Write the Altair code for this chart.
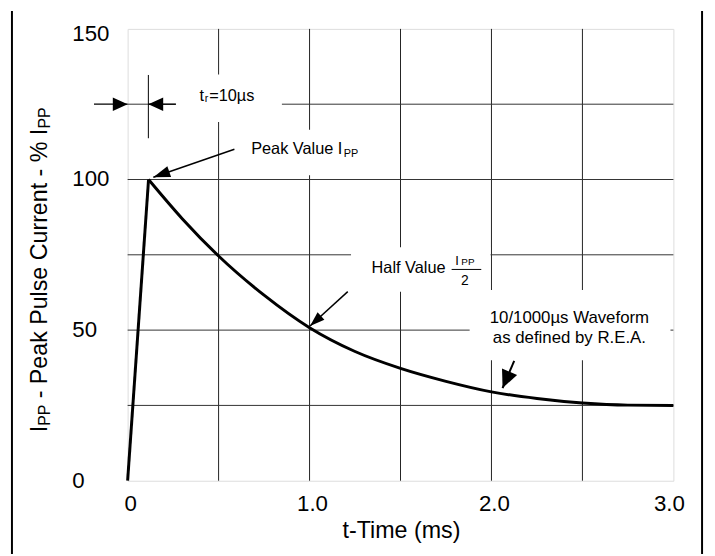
import math
import altair as alt
import pandas as pd

# ---------------- data ----------------
time_ms = [0, 0.115, 0.3, 0.5, 0.75, 1.0, 1.25, 1.5, 1.75, 2.0, 2.25, 2.5, 2.75, 3.0]
current_pct = [0, 100, 87.0, 74.6, 61.6, 50.8, 42.9, 37.3, 33.0, 29.5, 27.3, 25.8, 25.1, 25.0]

x_grid = [0.5, 1.0, 1.5, 2.0, 2.5]
y_grid = [25, 50, 75, 100, 125]
x_ticks = [0, 1, 2, 3]
x_tick_labels = ["0", "1.0", "2.0", "3.0"]
y_ticks = [0, 50, 100, 150]
y_tick_labels = ["0", "50", "100", "150"]

# annotation texts (data units)
ann_left_text = ["t", "r", "=10µs", "Peak Value I", "PP", "Half Value", "I", "PP"]
ann_left_x = [0.3951, 0.4239, 0.4484, 0.679, 1.1875, 1.3408, 1.8016, 1.8342]
ann_left_y = [125.94, 125.6, 125.94, 108.4, 107.6, 68.83, 71.55, 71.55]
ann_left_size = [16.5, 11, 16.5, 16.5, 11, 16.5, 13, 10]

ann_center_text = ["2", "10/1000µs Waveform", "as defined by R.E.A."]
ann_center_x = [1.8533, 2.4283, 2.4283]
ann_center_y = [64.99, 52.42, 45.69]
ann_center_size = [14, 17, 17]

# white label boxes that interrupt the grid (data units)
box_x1 = [0.266, 0.60, 1.228, 1.880]
box_x2 = [0.848, 1.32, 1.995, 2.984]
box_y1 = [119.1, 101.4, 62.7, 40.0]
box_y2 = [134.9, 116.5, 77.5, 63.3]

# arrows: start -> tip (data units)
arr_x1 = [-0.185, 0.265, 0.587, 1.210, 2.125]
arr_y1 = [125.0, 125.0, 110.05, 62.79, 39.81]
arr_x2 = [0.0, 0.114, 0.1413, 1.0027, 2.061]
arr_y2 = [125.0, 125.0, 100.77, 51.37, 30.75]
arr_width = [1.3, 1.3, 1.5, 1.5, 2.0]
arr_head_len = [15, 15, 17, 15, 18]
arr_head_wide = [True, True, False, False, True]

# marker line for rise time
mark_x = [0.114]
mark_y1 = [134.7]
mark_y2 = [113.7]

# fraction bar of "Ipp / 2"
frac_x1 = [1.781]
frac_x2 = [1.944]
frac_y = [70.14]

# ---------------- layout ----------------
W, H = 552, 457
KX = W / 3.0
KY = H / 150.0
FONT = "Liberation Sans"

xs = alt.Scale(domain=[0, 3], nice=False, zero=False)
ys = alt.Scale(domain=[0, 150], nice=False, zero=False)


def X(f):
    return alt.X(f, scale=xs, axis=None)


def Y(f):
    return alt.Y(f, scale=ys, axis=None)


curve = pd.DataFrame({"t": time_ms, "i": current_pct})
rise = curve.iloc[:2]
decay = curve.iloc[1:]

grid_v = alt.Chart(pd.DataFrame({"x": x_grid})).mark_rule(color="#222", strokeWidth=1).encode(
    x=X("x:Q"))
grid_h = alt.Chart(pd.DataFrame({"y": y_grid})).mark_rule(color="#333", strokeWidth=1).encode(
    y=Y("y:Q"))

boxes = alt.Chart(pd.DataFrame({"x1": box_x1, "x2": box_x2, "y1": box_y1, "y2": box_y2})).mark_rect(
    color="white").encode(x=X("x1:Q"), x2="x2:Q", y=Y("y1:Q"), y2="y2:Q")

rise_line = alt.Chart(rise).mark_line(color="black", strokeWidth=3).encode(
    x=X("t:Q"), y=Y("i:Q"))
decay_line = alt.Chart(decay).mark_line(color="black", strokeWidth=3, interpolate="monotone").encode(
    x=X("t:Q"), y=Y("i:Q"))

frac = alt.Chart(pd.DataFrame({"x1": frac_x1, "x2": frac_x2, "y": frac_y})).mark_rule(
    color="black", strokeWidth=1).encode(x=X("x1:Q"), x2="x2:Q", y=Y("y:Q"))

marker = alt.Chart(pd.DataFrame({"x": mark_x, "y1": mark_y1, "y2": mark_y2})).mark_rule(
    color="black", strokeWidth=1).encode(x=X("x:Q"), y=Y("y1:Q"), y2="y2:Q")

angles = [
    math.degrees(math.atan2(-(b2 - b1) * KY, (a2 - a1) * KX)) % 360
    for a1, b1, a2, b2 in zip(arr_x1, arr_y1, arr_x2, arr_y2)
]
arrows = pd.DataFrame({
    "x1": arr_x1, "y1": arr_y1, "x2": arr_x2, "y2": arr_y2, "w": arr_width,
    "ang": angles, "size": [l * l for l in arr_head_len], "wide": arr_head_wide,
})

arrow_lines = alt.Chart(arrows).mark_rule(color="black").encode(
    x=X("x1:Q"), y=Y("y1:Q"), x2="x2:Q", y2="y2:Q",
    strokeWidth=alt.StrokeWidth("w:Q", scale=None, legend=None))

WIDE = "M0,0L-2,-0.92L-2,0.92Z"
NARROW = "M0,0L-2,-0.68L-2,0.68Z"


def heads(df, path):
    return alt.Chart(df).mark_point(shape=path, filled=True, color="black", opacity=1,
                                    strokeWidth=0).encode(
        x=X("x2:Q"), y=Y("y2:Q"),
        angle=alt.Angle("ang:Q", scale=None),
        size=alt.Size("size:Q", scale=None, legend=None))


heads_wide = heads(arrows[arrows["wide"]], WIDE)
heads_narrow = heads(arrows[~arrows["wide"]], NARROW)

txt_left = alt.Chart(pd.DataFrame({"x": ann_left_x, "y": ann_left_y, "text": ann_left_text,
                                   "size": ann_left_size})).mark_text(
    align="left", baseline="alphabetic", font=FONT, color="black").encode(
    x=X("x:Q"), y=Y("y:Q"), text="text:N", size=alt.Size("size:Q", scale=None, legend=None))

txt_center = alt.Chart(pd.DataFrame({"x": ann_center_x, "y": ann_center_y, "text": ann_center_text,
                                     "size": ann_center_size})).mark_text(
    align="center", baseline="alphabetic", font=FONT, color="black").encode(
    x=X("x:Q"), y=Y("y:Q"), text="text:N", size=alt.Size("size:Q", scale=None, legend=None))

# ---------------- tick labels ----------------
xt = pd.DataFrame({"v": x_ticks, "lab": x_tick_labels})
yt = pd.DataFrame({"v": y_ticks, "lab": y_tick_labels})
TICK_FS = 22.5

xlab_a = alt.Chart(xt[xt["v"] < 3]).mark_text(
    align="center", baseline="alphabetic", font=FONT, fontSize=TICK_FS, color="black", dx=3).encode(
    x=X("v:Q"), y=alt.value(H + 31), text="lab:N")
xlab_b = alt.Chart(xt[xt["v"] >= 3]).mark_text(
    align="center", baseline="alphabetic", font=FONT, fontSize=TICK_FS, color="black", dx=-4).encode(
    x=X("v:Q"), y=alt.value(H + 31), text="lab:N")
ylab_a = alt.Chart(yt[yt["v"] < 150]).mark_text(
    align="left", baseline="middle", font=FONT, fontSize=TICK_FS, color="black").encode(
    x=alt.value(-56), y=Y("v:Q"), text="lab:N")
ylab_b = alt.Chart(yt[yt["v"] >= 150]).mark_text(
    align="left", baseline="middle", font=FONT, fontSize=TICK_FS, color="black", dy=5).encode(
    x=alt.value(-56), y=Y("v:Q"), text="lab:N")

# ---------------- axis titles (with subscripts) ----------------
one = pd.DataFrame({"k": [0]})
YT_X, YT_Y = -82, 408
MAIN, SUB = 23.5, 16
y_title_parts = [("I", 0, 0, MAIN), ("PP", 6.5, 3, SUB),
                 ("- Peak Pulse Current - % I", 34.3, 0, MAIN), ("PP", 307.3, 3, SUB)]
y_title_layers = [
    alt.Chart(one).mark_text(angle=270, align="left", baseline="alphabetic", font=FONT,
                             fontSize=fs, dx=dx, dy=dy, color="black").encode(
        x=alt.value(YT_X), y=alt.value(YT_Y), text=alt.value(t))
    for t, dx, dy, fs in y_title_parts
]

x_title = alt.Chart(one).mark_text(align="center", baseline="alphabetic", font=FONT,
                                   fontSize=23.5, color="black").encode(
    x=alt.value(277), y=alt.value(H + 58), text=alt.value("t-Time (ms)"))

frame_l = alt.Chart(one).mark_rule(color="black", strokeWidth=2).encode(
    x=alt.value(-117), y=alt.value(-18), y2=alt.value(531))
frame_r = alt.Chart(one).mark_rule(color="black", strokeWidth=2).encode(
    x=alt.value(581), y=alt.value(-18), y2=alt.value(531))

chart = alt.layer(
    grid_v, grid_h, boxes, frac, marker, rise_line, decay_line, arrow_lines,
    heads_wide, heads_narrow, txt_left, txt_center,
    xlab_a, xlab_b, ylab_a, ylab_b,
    *y_title_layers, x_title, frame_l, frame_r,
).properties(
    width=W, height=H,
    autosize=alt.AutoSizeParams(type="none"),
    padding={"left": 121, "top": 18, "right": 34, "bottom": 73},
).configure_view(stroke="#666", strokeWidth=1).configure(background="white")

chart.save("out.html", embed_options={"renderer": "svg", "actions": False})
